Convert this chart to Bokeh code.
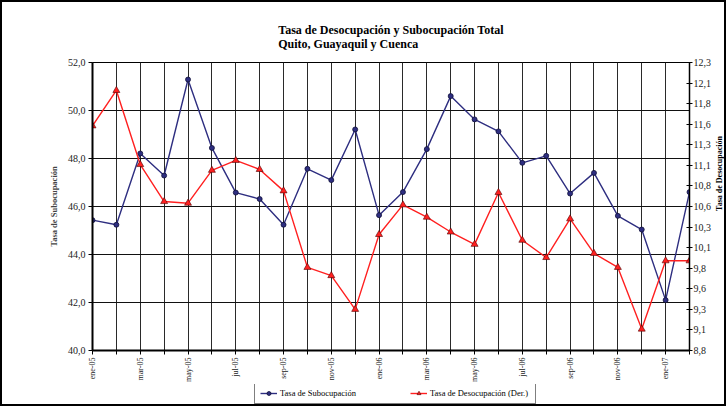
import math
from bokeh.plotting import figure
from bokeh.layouts import column, row
from bokeh.models import (Range1d, LinearAxis, FixedTicker, Legend, LegendItem,
                          Title, Label, ColumnDataSource)
from bokeh.embed import file_html
from bokeh.resources import INLINE

# ---------------- data ----------------
months = ["ene-05", "feb-05", "mar-05", "abr-05", "may-05", "jun-05", "jul-05",
          "ago-05", "sep-05", "oct-05", "nov-05", "dic-05", "ene-06", "feb-06",
          "mar-06", "abr-06", "may-06", "jun-06", "jul-06", "ago-06", "sep-06",
          "oct-06", "nov-06", "dic-06", "ene-07", "feb-07"]
subocupacion = [45.43, 45.24, 48.21, 47.29, 51.29, 48.44, 46.58, 46.31, 45.24,
                47.57, 47.10, 49.21, 45.64, 46.60, 48.39, 50.60, 49.63, 49.13,
                47.82, 48.11, 46.54, 47.40, 45.61, 45.04, 42.10, 46.60]
desocupacion = [11.53, 11.96, 11.06, 10.61, 10.59, 10.99, 11.11, 11.00, 10.74,
                9.81, 9.71, 9.30, 10.21, 10.57, 10.42, 10.24, 10.09, 10.72,
                10.14, 9.93, 10.40, 9.98, 9.81, 9.06, 9.89, 9.89]
left_ticks = [40, 42, 44, 46, 48, 50, 52]
left_labels = ["40,0", "42,0", "44,0", "46,0", "48,0", "50,0", "52,0"]
right_ticks = [8.8, 9.05, 9.3, 9.55, 9.8, 10.05, 10.3, 10.55, 10.8, 11.05,
               11.3, 11.55, 11.8, 12.05, 12.3]
right_labels = ["8,8", "9,1", "9,3", "9,6", "9,8", "10,1", "10,3", "10,6",
                "10,8", "11,1", "11,3", "11,6", "11,8", "12,1", "12,3"]
title_text = "Tasa de Desocupación y Subocupación Total\nQuito, Guayaquil y Cuenca"
series_names = ["Tasa de Subocupación", "Tasa de Desocupación (Der.)"]
right_axis_title = "Tasa de Desocupación"

FONT = "Liberation Serif"
BLUE = "#2E2E80"
RED = "#FF2020"
BLUE_STYLE = dict(line_color=BLUE, line_width=1.4)
BLUE_MARK = dict(marker="circle", size=5, fill_color=BLUE,
                 line_color="#10103a", line_width=0.8)
RED_STYLE = dict(line_color=RED, line_width=1.4)
RED_MARK = dict(marker="triangle", size=7, fill_color=RED,
                line_color="#500000", line_width=0.6)

x_idx = list(range(len(months)))
src = ColumnDataSource(dict(x=x_idx, sub=subocupacion, des=desocupacion))

MAIN_H = 382

p = figure(width=712, height=MAIN_H, output_backend="svg", toolbar_location=None,
           x_range=Range1d(0, len(months) - 1),
           y_range=Range1d(left_ticks[0], left_ticks[-1]),
           min_border_left=90, min_border_right=22,
           min_border_top=60, min_border_bottom=34)
p.title = Title(text=title_text, align="center", text_font=FONT,
                text_font_style="bold", text_font_size="12px",
                text_color="black", standoff=23, offset=6,
                text_line_height=1.0)
p.background_fill_color = "white"
p.border_fill_color = "white"
p.outline_line_color = "black"
p.outline_line_width = 1

p.extra_y_ranges = {"des": Range1d(right_ticks[0], right_ticks[-1])}

# grids
p.xgrid.ticker = FixedTicker(ticks=x_idx)
p.xgrid.grid_line_color = "#2a2a2a"
p.xgrid.grid_line_width = 1
p.ygrid.ticker = FixedTicker(ticks=left_ticks)
p.ygrid.grid_line_color = "#111111"
p.ygrid.grid_line_width = 1

# series
p.line("x", "sub", source=src, **BLUE_STYLE)
p.scatter("x", "sub", source=src, **BLUE_MARK)
p.line("x", "des", source=src, y_range_name="des", **RED_STYLE)
p.scatter("x", "des", source=src, y_range_name="des", **RED_MARK)

# left axis
ya = p.yaxis[0]
ya.ticker = FixedTicker(ticks=left_ticks)
ya.major_label_overrides = dict(zip(left_ticks, left_labels))
ya.axis_label = series_names[0]
ya.axis_label_text_font = FONT
ya.axis_label_text_font_style = "bold"
ya.axis_label_text_font_size = "8.5px"
ya.axis_label_standoff = 6
ya.major_label_text_font = FONT
ya.major_label_text_font_size = "10px"
ya.major_label_text_color = "#222222"
ya.major_label_standoff = 3
ya.axis_line_width = 2
ya.axis_line_color = "black"
ya.major_tick_out = 4
ya.major_tick_in = 0
ya.minor_tick_out = 0
ya.minor_tick_in = 0

# right axis
ra = LinearAxis(y_range_name="des", ticker=FixedTicker(ticks=right_ticks),
                major_label_overrides=dict(zip(right_ticks, right_labels)))
ra.major_label_text_font = FONT
ra.major_label_text_font_size = "10px"
ra.major_label_text_color = "#222222"
ra.major_label_standoff = 1
ra.axis_line_width = 1.5
ra.axis_line_color = "black"
ra.major_tick_out = 3
ra.major_tick_in = 3
ra.minor_tick_out = 0
ra.minor_tick_in = 0
p.add_layout(ra, "right")

# bottom axis
xa = p.xaxis[0]
xa.ticker = FixedTicker(ticks=x_idx)
xa.major_label_overrides = {i: (m if i % 2 == 0 else "") for i, m in enumerate(months)}
xa.major_label_orientation = math.pi / 2
xa.major_label_text_font = FONT
xa.major_label_text_font_size = "8px"
xa.major_label_text_color = "#222222"
xa.major_label_standoff = 3
xa.axis_line_width = 2
xa.axis_line_color = "black"
xa.major_tick_out = 4
xa.major_tick_in = 0
xa.minor_tick_out = 0
xa.minor_tick_in = 0

# ---------------- right-axis title strip ----------------
rt = figure(width=10, height=MAIN_H, output_backend="svg", toolbar_location=None,
            x_range=Range1d(0, 1), y_range=Range1d(0, 1),
            x_axis_location=None, y_axis_location=None,
            min_border_left=0, min_border_right=0, min_border_top=0,
            min_border_bottom=0)
rt.xgrid.visible = False
rt.ygrid.visible = False
rt.outline_line_color = None
rt.background_fill_color = "white"
rt.border_fill_color = "white"
rt.add_layout(Label(x=5, y=MAIN_H - 205, x_units="screen", y_units="screen",
                    text=right_axis_title, angle=math.pi / 2,
                    text_font=FONT, text_font_style="bold",
                    text_font_size="8px", text_align="center",
                    text_baseline="middle", text_color="black"))

# ---------------- legend strip ----------------
lg = figure(width=722, height=20, output_backend="svg", toolbar_location=None,
            x_range=Range1d(0, 1), y_range=Range1d(0, 1),
            x_axis_location=None, y_axis_location=None,
            min_border_left=0, min_border_right=0, min_border_top=0,
            min_border_bottom=0)
lg.xgrid.visible = False
lg.ygrid.visible = False
lg.outline_line_color = None
lg.background_fill_color = "white"
lg.border_fill_color = "white"
# series copies: their values lie far outside this strip's 0..1 range,
# so only their legend symbols are seen
lsrc = ColumnDataSource(dict(x=x_idx, sub=subocupacion, des=desocupacion))
lr1 = lg.line("x", "sub", source=lsrc, **BLUE_STYLE)
lr1m = lg.scatter("x", "sub", source=lsrc, **BLUE_MARK)
lr2 = lg.line("x", "des", source=lsrc, **RED_STYLE)
lr2m = lg.scatter("x", "des", source=lsrc, **RED_MARK)

legend = Legend(items=[LegendItem(label=series_names[0], renderers=[lr1, lr1m]),
                       LegendItem(label=series_names[1], renderers=[lr2, lr2m])],
                orientation="horizontal", location=(252, 0))
legend.label_text_font = FONT
legend.label_text_font_size = "8.5px"
legend.label_text_color = "black"
legend.padding = 5
legend.spacing = 30
legend.glyph_width = 17
legend.glyph_height = 10
legend.label_height = 10
legend.label_width = 100
legend.label_standoff = 3
legend.border_line_color = "black"
legend.border_line_width = 1
legend.background_fill_color = "white"
legend.margin = 0
lg.add_layout(legend, "center")

layout = column(row(p, rt, spacing=0), lg, spacing=0)
layout.styles = {"border": "2px solid black", "box-sizing": "content-box"}
open("out.html", "w").write(file_html(layout, INLINE))
